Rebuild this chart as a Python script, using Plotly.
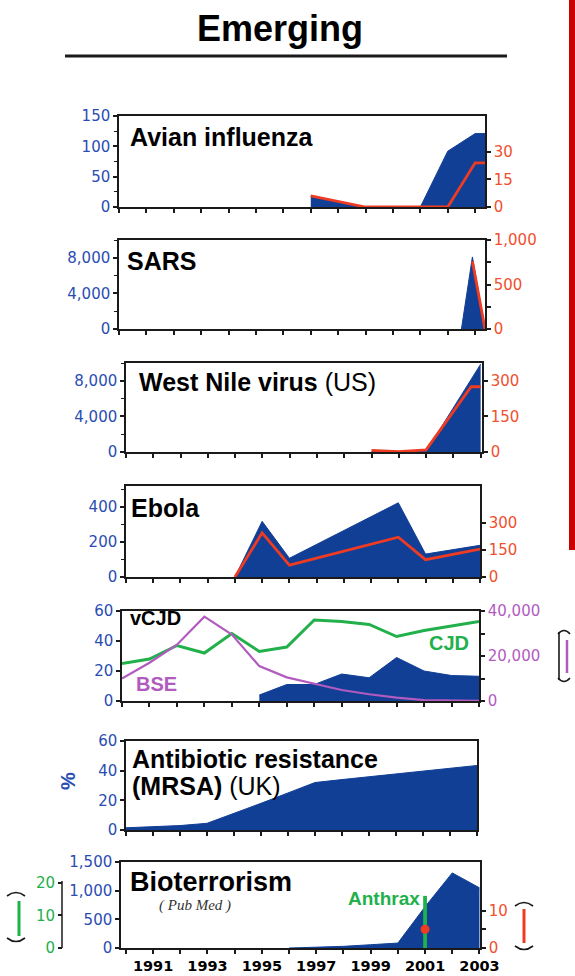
import plotly.graph_objects as go

W, H = 575, 976

# ---------------------------------------------------------------- data
YEARS = list(range(1990, 2004))
YEAR_LABELS = [str(y) if y % 2 == 1 else "" for y in YEARS]

# Avian influenza: cases (left axis) and deaths (right axis)
AVIAN_YEARS = [1997, 1998, 1999, 2000, 2001, 2002, 2003, 2003.36]
AVIAN_CASES = [18, 9, 0, 0, 0, 92, 121, 121]
AVIAN_DEATHS = [6, 3, 0, 0, 0, 0, 24, 24]

# SARS
SARS_YEARS = [2002.5, 2002.9, 2003.36]
SARS_CASES = [0, 8100, 0]
SARS_DEATH_YEARS = [2002.9, 2003.36]
SARS_DEATHS = [760, 0]

# West Nile virus (US)
WNV_YEARS = [1999, 2000, 2001, 2002, 2003]
WNV_CASES = [62, 21, 66, 4900, 9862]
WNV_DEATH_YEARS = [1999, 2000, 2001, 2002.65, 2003]
WNV_DEATHS = [7, 2, 9, 275, 275]

# Ebola
EBOLA_YEARS = [1994, 1995, 1996, 2000, 2001, 2002, 2003]
EBOLA_CASES = [0, 318, 107, 424, 131, 156, 181]
EBOLA_DEATHS = [0, 245, 66, 221, 96, 125, 155]

# vCJD deaths, CJD deaths (left axis), BSE cases (right axis)
VCJD_YEARS = [1995, 1996, 1997, 1998, 1999, 2000, 2001, 2002, 2003]
VCJD_DEATHS = [4, 11, 11, 18, 15.5, 29, 20, 17, 16.5]
CJD_DEATHS = [25, 28, 37, 32, 45, 33, 36, 54, 53, 51, 43, 47, 50, 53]
BSE_CASES = [10000, 17000, 25000, 37500, 29500, 15500, 10500, 7700,
             4900, 3000, 1500, 400, 150, 50]

# MRSA share of S. aureus (%)
MRSA_PCT = [1.5, 2, 3, 4.5, 11, 18, 25, 32, 34, 36, 37.5, 39.5, 41.5, 43.5]

# Bioterrorism PubMed citations, anthrax cases and deaths
BIO_YEARS = [1996, 1997, 1998, 1999, 2000, 2001, 2002, 2003]
BIO_PAPERS = [0, 12, 29, 57, 86, 720, 1310, 1050]
ANTHRAX_YEAR = [2001]
ANTHRAX_CASES = [16]
ANTHRAX_DEATHS = [5]

# ---------------------------------------------------------------- style
NAVY = "#123f96"
BLUE_TXT = "#2a4db2"
RED = "#ee3b22"
RED_TXT = "#f0502e"
GREEN = "#22b04b"
PURPLE = "#b25bbf"
AXIS = "#1a1a1a"
TICK_FONT = "DejaVu Sans"
TITLE_FONT = "Liberation Sans, Arial, sans-serif"


def fx(p):
    return p / W


def fy(p):
    return 1 - p / H


fig = go.Figure()
layout = dict(
    width=W, height=H,
    margin=dict(l=0, r=0, t=0, b=0, pad=0, autoexpand=False),
    paper_bgcolor="white", plot_bgcolor="rgba(0,0,0,0)",
    showlegend=False, shapes=[], annotations=[],
)

# panel boxes in pixels: left, right, top, bottom
panels = {
    1: dict(box=(119, 485, 116, 207), xr=[1990, 2003.36]),
    2: dict(box=(119, 485, 240, 329), xr=[1990, 2003.36]),
    3: dict(box=(126, 482, 363, 452), xr=[1990, 2003.05]),
    4: dict(box=(126, 480, 486, 577), xr=[1990, 2003]),
    5: dict(box=(122, 479, 611, 701), xr=[1990, 2003]),
    6: dict(box=(126, 477, 741, 830), xr=[1990, 2003]),
    7: dict(box=(121, 480, 862, 948), xr=[1989.82, 2003.02]),
}

left_axes = {
    1: dict(range=[0, 150], tickvals=[0, 50, 100, 150], minor=25),
    2: dict(range=[0, 10000], tickvals=[0, 4000, 8000], minor=2000),
    3: dict(range=[0, 10000], tickvals=[0, 4000, 8000], minor=2000),
    4: dict(range=[0, 520], tickvals=[0, 200, 400], minor=100),
    5: dict(range=[0, 60], tickvals=[0, 20, 40, 60], minor=None),
    6: dict(range=[0, 60], tickvals=[0, 20, 40, 60], minor=None),
    7: dict(range=[0, 1500], tickvals=[0, 500, 1000, 1500], minor=None),
}

right_axes = {
    1: dict(range=[0, 49.5], tickvals=[0, 15, 30], ticktext=None, color=RED_TXT),
    2: dict(range=[0, 1000], tickvals=[0, 250, 500, 750, 1000],
            ticktext=["0", "", "500", "", "1,000"], color=RED_TXT),
    3: dict(range=[0, 375], tickvals=[0, 150, 300], ticktext=None, color=RED_TXT),
    4: dict(range=[0, 505], tickvals=[0, 150, 300], ticktext=None, color=RED_TXT),
    5: dict(range=[0, 40000], tickvals=[0, 10000, 20000, 30000, 40000],
            ticktext=["0", "", "20,000", "", "40,000"], color=PURPLE),
    7: dict(range=[0, 23], tickvals=[0, 5, 10], ticktext=["0", "", "10"], color=RED_TXT),
}

for i, p in panels.items():
    L, R, T, B = p["box"]
    last = i == 7
    layout[f"xaxis{i}"] = dict(
        domain=[fx(L), fx(R)], range=p["xr"], anchor=f"y{i}",
        tickmode="array", tickvals=YEARS, ticktext=YEAR_LABELS,
        showticklabels=last, ticks="outside", ticklen=4, tickwidth=1.5,
        tickcolor=AXIS, showline=True, linecolor=AXIS, linewidth=1.5,
        mirror=True, showgrid=False, zeroline=False, automargin=False,
        tickfont=dict(family=TICK_FONT, size=14.5, color="black", weight="bold"),
    )
    la = left_axes[i]
    ya = dict(
        domain=[fy(B), fy(T)], range=la["range"], anchor=f"x{i}", side="left",
        tickmode="array", tickvals=la["tickvals"], tickformat=",",
        ticks="outside", ticklen=4, tickwidth=1.5, tickcolor=AXIS,
        showline=True, linecolor=AXIS, linewidth=1.5, automargin=False,
        mirror=(i not in right_axes), showgrid=False, zeroline=False,
        tickfont=dict(family=TICK_FONT, size=15, color=BLUE_TXT),
    )
    if la["minor"]:
        ya["minor"] = dict(dtick=la["minor"], ticks="outside", ticklen=3,
                           tickwidth=1.2, tickcolor=AXIS, showgrid=False)
    layout[f"yaxis{i}"] = ya
    if i in right_axes:
        ra = right_axes[i]
        yr = dict(
            overlaying=f"y{i}", anchor=f"x{i}", side="right", range=ra["range"],
            tickmode="array", tickvals=ra["tickvals"], tickformat=",",
            ticks="outside", ticklen=4, tickwidth=1.5, tickcolor=AXIS,
            showline=True, linecolor=AXIS, linewidth=1.5, automargin=False,
            showgrid=False, zeroline=False,
            tickfont=dict(family=TICK_FONT, size=15, color=ra["color"]),
        )
        if ra["ticktext"]:
            yr["ticktext"] = ra["ticktext"]
        layout[f"yaxis{10 + i}"] = yr

# extra anthrax-cases axis to the left of the bioterrorism panel
# (0 at the panel floor, 20 a little below the panel top)
layout["yaxis16"] = dict(
    overlaying="y7", anchor="free", position=fx(62), side="left",
    range=[0, 26.4], tickmode="array", tickvals=[0, 10, 20],
    ticks="outside", ticklen=4, tickwidth=1.5, tickcolor=AXIS,
    showline=False, showgrid=False, zeroline=False, automargin=False,
    tickfont=dict(family=TICK_FONT, size=15, color=GREEN),
)


def area(x, y, i):
    fig.add_trace(go.Scatter(
        x=x, y=y, xaxis=f"x{i}", yaxis=f"y{i}", mode="lines",
        fill="tozeroy", fillcolor=NAVY, line=dict(color=NAVY, width=1),
        hoverinfo="skip"))


def line(x, y, xa, ya, color, width):
    fig.add_trace(go.Scatter(
        x=x, y=y, xaxis=xa, yaxis=ya, mode="lines",
        line=dict(color=color, width=width), hoverinfo="skip"))


area(AVIAN_YEARS, AVIAN_CASES, 1)
line(AVIAN_YEARS, AVIAN_DEATHS, "x1", "y11", RED, 2.8)

area(SARS_YEARS, SARS_CASES, 2)
line(SARS_DEATH_YEARS, SARS_DEATHS, "x2", "y12", RED, 2.8)

area(WNV_YEARS, WNV_CASES, 3)
line(WNV_DEATH_YEARS, WNV_DEATHS, "x3", "y13", RED, 2.8)

area(EBOLA_YEARS, EBOLA_CASES, 4)
line(EBOLA_YEARS, EBOLA_DEATHS, "x4", "y14", RED, 2.8)

area(VCJD_YEARS, VCJD_DEATHS, 5)
line(YEARS, BSE_CASES, "x5", "y15", PURPLE, 2.2)
line(YEARS, CJD_DEATHS, "x5", "y5", GREEN, 3)

area(YEARS, MRSA_PCT, 6)

area(BIO_YEARS, BIO_PAPERS, 7)
fig.add_trace(go.Bar(
    x=ANTHRAX_YEAR, y=ANTHRAX_CASES, xaxis="x7", yaxis="y16", width=0.14,
    marker=dict(color=GREEN, line=dict(width=0)), hoverinfo="skip"))
fig.add_trace(go.Scatter(
    x=ANTHRAX_YEAR, y=ANTHRAX_DEATHS, xaxis="x7", yaxis="y17", mode="markers",
    marker=dict(color=RED, size=9), hoverinfo="skip"))


# ---------------------------------------------------------------- text
def label(text, x, y, size, color="black", family=TITLE_FONT, xanchor="left",
          angle=0):
    layout["annotations"].append(dict(
        text=text, x=fx(x), y=fy(y), xref="paper", yref="paper",
        xanchor=xanchor, yanchor="middle", showarrow=False, textangle=angle,
        font=dict(family=family, size=size, color=color)))


label("<b>Emerging</b>", 280, 29, 36, xanchor="center")
label("<b>Avian influenza</b>", 128, 137, 25)
label("<b>SARS</b>", 125, 261, 25)
label("<b>West Nile virus</b> (US)", 137, 382, 25)
label("<b>Ebola</b>", 129, 508, 25)
label("<b>vCJD</b>", 128, 618, 20)
label("<b>CJD</b>", 427, 643, 20, GREEN)
label("<b>BSE</b>", 134, 684, 20, PURPLE)
label("<b>Antibiotic resistance</b>", 130, 759, 25)
label("<b>(MRSA)</b> (UK)", 130, 786, 25)
label("<b>%</b>", 68, 781, 20, BLUE_TXT, xanchor="center", angle=-90)
label("<b>Bioterrorism</b>", 128, 882, 27)
label("<i>( Pub Med )</i>", 157, 905, 15, "#333",
      family="Liberation Serif, Times New Roman, serif")
label("<b>Anthrax</b>", 422, 898, 19, GREEN, xanchor="right")


# ---------------------------------------------------------------- decorations
def pline(x0, y0, x1, y1, color, width):
    layout["shapes"].append(dict(
        type="line", xref="paper", yref="paper", x0=fx(x0), y0=fy(y0),
        x1=fx(x1), y1=fy(y1), line=dict(color=color, width=width)))


def ppath(points, color, width):
    # points: list of ("M"|"Q"|"L", coords...) in pixels
    parts = []
    for cmd, *pts in points:
        coords = " ".join(f"{fx(pts[k]):.5f},{fy(pts[k + 1]):.5f}"
                          for k in range(0, len(pts), 2))
        parts.append(f"{cmd} {coords}")
    layout["shapes"].append(dict(
        type="path", xref="paper", yref="paper", path=" ".join(parts),
        line=dict(color=color, width=width)))


def bracket(cx, top, bottom, half, with_spine=False):
    ppath([("M", cx - half, top + 4), ("Q", cx, top - 3, cx + half, top + 4)],
          AXIS, 1.6)
    ppath([("M", cx - half, bottom - 4), ("Q", cx, bottom + 3, cx + half, bottom - 4)],
          AXIS, 1.6)
    if with_spine:
        pline(cx - half + 1, top + 2, cx - half + 1, bottom - 2, AXIS, 1.6)


# heading rule and side bar
pline(65, 56, 507, 56, AXIS, 3)
layout["shapes"].append(dict(
    type="rect", xref="paper", yref="paper", x0=fx(569), x1=fx(575),
    y0=fy(550), y1=fy(0), fillcolor="#cc0000", line=dict(width=0)))

# axis keys
bracket(564, 630, 682, 6, with_spine=True)
pline(567, 640, 567, 673, PURPLE, 2.5)

bracket(16, 892, 942, 9)
pline(19, 901, 19, 936, GREEN, 3)

bracket(524, 902, 950, 9)
pline(524, 909, 524, 943, RED, 3)

# spine of the anthrax-cases axis
pline(62, 881, 62, 948, AXIS, 1.5)

fig.update_layout(**layout)
fig.write_html("out.html")
